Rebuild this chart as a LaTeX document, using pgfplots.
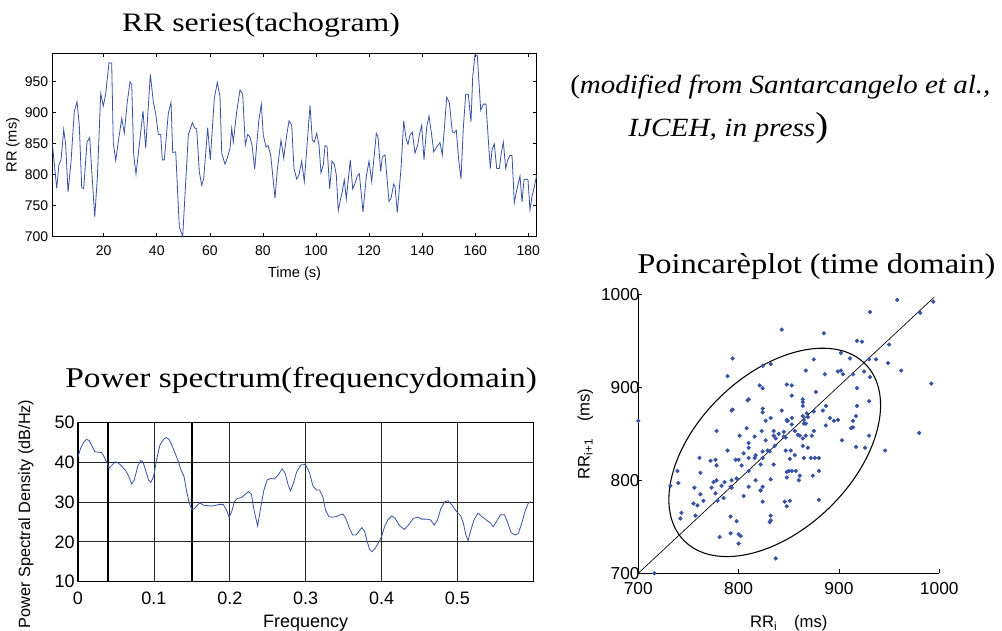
\documentclass[border=0pt]{standalone}
\usepackage{pgfplots}
\pgfplotsset{compat=1.18}
\usepackage{pgfplotstable}
\usepackage{graphicx}
\usepackage{fontspec}
\setmainfont{Liberation Serif}
\setsansfont{Liberation Sans}
\definecolor{mblue}{RGB}{57,83,164}

\pgfplotstableread{
t rr
0.64 851
2.30 778
3.13 816
3.92 824
4.94 873
5.69 848
6.56 772
7.69 821
8.93 902
9.95 918
10.81 880
11.72 779
12.47 778
13.72 853
14.73 860
15.60 800
16.62 732
17.60 794
18.88 931
19.86 911
20.76 931
22.00 981
23.02 980
23.62 851
24.53 823
25.51 853
26.79 891
27.77 867
28.90 918
29.92 950
30.56 946
31.31 832
32.18 801
33.42 848
34.82 903
35.83 843
37.57 962
38.70 918
39.60 899
40.58 865
41.48 865
42.09 824
42.84 824
44.35 899
45.37 917
46.01 836
47.14 837
48.49 716
49.77 700
51.88 864
53.39 884
54.41 875
55.05 874
56.03 805
56.93 783
57.69 794
59.19 876
60.17 824
61.68 923
62.81 949
63.83 926
64.47 835
65.71 817
66.58 827
67.60 843
68.24 875
68.84 853
70.12 902
71.36 937
72.38 930
73.36 848
74.27 865
75.13 861
75.89 848
76.90 809
78.41 886
79.39 914
80.14 864
81.16 845
81.91 847
82.93 832
84.55 762
85.42 808
86.81 856
87.83 827
88.96 864
89.83 887
90.84 880
91.71 810
92.73 793
93.59 800
94.61 822
95.59 789
97.74 912
98.61 856
99.36 853
100.26 867
101.13 848
101.88 803
102.75 816
103.39 847
104.14 846
105.16 777
106.03 822
106.89 817
107.65 800
108.40 742
109.16 759
109.91 773
110.66 792
111.42 761
112.92 824
113.83 777
114.69 786
115.56 798
116.31 802
117.71 740
118.95 797
119.97 822
120.99 789
121.97 832
122.72 867
123.36 861
124.38 805
124.98 829
126.00 832
127.50 757
128.26 762
129.28 785
129.77 781
130.63 739
132.03 810
133.04 887
133.91 859
134.66 849
135.42 864
136.28 869
137.30 835
138.32 848
138.92 864
139.83 880
140.69 824
141.71 877
142.58 895
143.59 864
144.35 837
145.48 845
146.72 852
147.59 832
149.25 925
150.23 917
151.36 869
152.11 868
152.86 872
153.77 824
154.63 793
155.50 875
156.41 930
157.38 930
158.40 885
159.04 958
159.91 994
160.78 992
162.06 904
163.04 914
164.05 914
164.92 857
165.67 810
166.31 840
167.18 850
168.09 810
169.07 810
169.82 835
170.57 853
171.48 810
172.23 824
173.10 831
173.85 831
174.72 755
175.62 775
176.86 798
177.62 756
178.37 792
179.12 793
179.88 792
180.63 743
181.39 765
182.14 778
183.16 800
}\rrtable

\pgfplotstableread{
f db
0.0000 41.4
0.0035 43.5
0.0079 45.1
0.0114 45.7
0.0148 45.4
0.0188 43.9
0.0223 42.6
0.0260 42.5
0.0310 42.4
0.0340 41.5
0.0376 40.1
0.0410 38.5
0.0450 39.3
0.0493 40.1
0.0537 39.7
0.0580 38.9
0.0624 38.0
0.0668 36.5
0.0707 34.5
0.0742 35.5
0.0786 38.9
0.0825 40.4
0.0856 40.1
0.0890 38.0
0.0930 35.5
0.0960 34.9
0.0996 36.4
0.1040 41.0
0.1080 44.3
0.1127 45.7
0.1162 46.2
0.1200 45.7
0.1236 44.3
0.1280 42.2
0.1323 40.1
0.1358 38.0
0.1397 36.4
0.1432 32.6
0.1467 29.7
0.1502 28.0
0.1537 28.4
0.1572 29.2
0.1607 29.8
0.1650 29.2
0.1694 29.1
0.1747 29.0
0.1803 29.1
0.1860 29.4
0.1913 29.4
0.1956 28.0
0.1991 26.2
0.2026 27.6
0.2061 30.1
0.2100 30.9
0.2153 31.1
0.2197 31.8
0.2245 32.6
0.2284 32.0
0.2319 28.0
0.2367 24.0
0.2406 28.4
0.2450 33.0
0.2493 35.5
0.2537 35.9
0.2590 35.8
0.2638 36.8
0.2690 38.3
0.2730 37.2
0.2769 34.3
0.2800 32.8
0.2838 34.7
0.2882 37.6
0.2939 39.3
0.2990 39.4
0.3010 39.0
0.3052 37.2
0.3096 34.0
0.3140 33.0
0.3183 33.0
0.3227 31.2
0.3262 28.0
0.3306 26.3
0.3350 26.2
0.3400 26.3
0.3445 26.7
0.3490 27.0
0.3530 25.9
0.3576 23.4
0.3620 21.7
0.3664 21.7
0.3700 22.6
0.3740 23.6
0.3777 22.6
0.3812 20.0
0.3843 18.1
0.3873 17.5
0.3917 18.4
0.3960 19.8
0.4000 21.3
0.4039 23.8
0.4083 25.5
0.4135 26.5
0.4180 25.9
0.4231 24.2
0.4300 23.1
0.4354 24.2
0.4420 25.9
0.4476 26.2
0.4528 25.7
0.4594 25.7
0.4646 25.5
0.4694 24.2
0.4738 25.5
0.4782 28.4
0.4834 30.1
0.4878 30.3
0.4930 29.2
0.4987 27.6
0.5044 26.5
0.5079 24.6
0.5109 21.9
0.5140 20.3
0.5175 22.8
0.5218 25.5
0.5271 27.2
0.5323 26.3
0.5380 25.5
0.5437 24.7
0.5472 23.8
0.5515 25.1
0.5568 26.8
0.5620 26.8
0.5664 24.7
0.5707 22.3
0.5760 21.7
0.5803 22.1
0.5847 24.7
0.5890 27.6
0.5934 29.7
0.5969 30.1
}\psdtable

\pgfplotstableread{
x y
851 778
778 816
816 824
824 873
873 848
848 772
772 821
821 902
902 918
918 880
880 779
779 778
778 853
853 860
860 800
800 732
732 794
794 931
931 911
911 931
931 981
981 980
980 851
851 823
823 853
853 891
891 867
867 918
918 950
950 946
946 832
832 801
801 848
848 903
903 843
843 962
962 918
918 899
899 865
865 865
865 824
824 824
824 899
899 917
917 836
836 837
837 716
716 700
700 864
864 884
884 875
875 874
874 805
805 783
783 794
794 876
876 824
824 923
923 949
949 926
926 835
835 817
817 827
827 843
843 875
875 853
853 902
902 937
937 930
930 848
848 865
865 861
861 848
848 809
809 886
886 914
914 864
864 845
845 847
847 832
832 762
762 808
808 856
856 827
827 864
864 887
887 880
880 810
810 793
793 800
800 822
822 789
789 912
912 856
856 853
853 867
867 848
848 803
803 816
816 847
847 846
846 777
777 822
822 817
817 800
800 742
742 759
759 773
773 792
792 761
761 824
824 777
777 786
786 798
798 802
802 740
740 797
797 822
822 789
789 832
832 867
867 861
861 805
805 829
829 832
832 757
757 762
762 785
785 781
781 739
739 810
810 887
887 859
859 849
849 864
864 869
869 835
835 848
848 864
864 880
880 824
824 877
877 895
895 864
864 837
837 845
845 852
852 832
832 925
925 917
917 869
869 868
868 872
872 824
824 793
793 875
875 930
930 930
930 885
885 958
958 994
994 992
992 904
904 914
914 914
914 857
857 810
810 840
840 850
850 810
810 810
810 835
835 853
853 810
810 824
824 831
831 831
831 755
755 775
775 798
798 756
756 792
792 793
793 792
792 743
743 765
765 778
778 800
}\poinctable

\begin{document}
\begin{tikzpicture}
\path[use as bounding box] (0,0) rectangle (751.5pt,473.25pt);

% ---------------- RR series ----------------
\begin{axis}[
  at={(39.23pt,295.7pt)}, anchor=south west, scale only axis,
  width=363.3pt, height=137.55pt,
  xmin=0.64, xmax=183.16, ymin=700, ymax=996,
  xtick={20,40,60,80,100,120,140,160,180},
  ytick={700,750,800,850,900,950},
  tick align=inside, tick pos=both, major tick length=3pt,
  every tick/.style={black, line width=0.5pt},
  axis line style={black, line width=0.8pt},
  /pgf/number format/assume math mode=true,
  /pgf/number format/1000 sep={},
  tick label style={font=\sffamily\fontsize{10.5}{12}\selectfont},
  xticklabel style={yshift=-3.5pt},
  yticklabel style={xshift=0.5pt},
  xlabel={Time (s)}, ylabel={RR (ms)},
  label style={font=\sffamily\fontsize{11}{13}\selectfont},
  xlabel style={yshift=-1pt},
  ylabel style={yshift=-3pt},
]
\addplot[mblue, line width=0.6pt] table[x=t, y=rr] {\rrtable};
\end{axis}

% ---------------- Power spectrum ----------------
\begin{axis}[
  at={(58.5pt,36.98pt)}, anchor=south west, scale only axis,
  width=341.5pt, height=119.55pt,
  xmin=0, xmax=0.6, ymin=10, ymax=50,
  xtick={0,0.1,0.2,0.3,0.4,0.5},
  ytick={10,20,30,40,50},
  grid=major, major grid style={black!85, line width=0.55pt},
  extra x ticks={0.04,0.15}, extra x tick labels={},
  extra x tick style={grid=major, major grid style={black, line width=1.3pt}},
  tick align=inside, major tick length=0pt,
  axis line style={black, line width=0.9pt},
  /pgf/number format/assume math mode=true,
  tick label style={font=\sffamily\fontsize{13.5}{15}\selectfont},
  yticklabel style={xshift=1pt},
  xticklabel style={yshift=-4pt},
  xlabel={Frequency}, ylabel={Power Spectral Density (dB/Hz)},
  xlabel style={font=\sffamily\fontsize{13.5}{15}\selectfont, yshift=-1pt},
  ylabel style={font=\sffamily\fontsize{12.2}{14}\selectfont, yshift=9pt, xshift=-9pt},
]
\addplot[mblue, line width=0.6pt] table[x=f, y=db] {\psdtable};
\end{axis}

% ---------------- Poincare plot ----------------
\begin{axis}[
  at={(478.7pt,43.28pt)}, anchor=south west, scale only axis,
  width=225.75pt, height=209.25pt,
  xmin=700, xmax=1000, ymin=700, ymax=1000,
  axis x line=bottom, axis y line=left,
  axis line style={-, black, line width=0.6pt},
  xtick={700,800,900,1000}, ytick={700,800,900,1000},
  tick align=inside, major tick length=3pt,
  every tick/.style={black, line width=0.5pt},
  clip=false,
  /pgf/number format/assume math mode=true,
  /pgf/number format/1000 sep={},
  tick label style={font=\sffamily\fontsize{13}{15}\selectfont},
  yticklabel style={xshift=4.5pt},
  xticklabel style={yshift=-3pt},
  xlabel={RR\textsubscript{i}\quad(ms)},
  ylabel={RR\textsubscript{i+1}\quad(ms)},
  label style={font=\sffamily\fontsize{12.5}{14}\selectfont},
  xlabel style={yshift=-9pt},
  ylabel style={yshift=-1pt},
]
\addplot[only marks, mark=*, mark size=1.4pt, mblue] table[x=x, y=y] {\poinctable};
\addplot[black, line width=0.5pt] coordinates {(700,700) (995,997)};
\draw[black, line width=0.8pt, rotate around={44:(axis cs:836,830)}]
  (axis cs:836,830) ellipse [x radius=94.9pt, y radius=58.3pt];
\end{axis}

% ---------------- Titles and note ----------------
\node[anchor=base west, inner sep=0pt] at (91.3pt,449.5pt)
  {\resizebox{208.5pt}{\height}{\fontsize{20}{24}\selectfont RR series(tachogram)}};
\node[anchor=base west, inner sep=0pt] at (48.75pt,182.8pt)
  {\resizebox{353.8pt}{\height}{\fontsize{21.5}{26}\selectfont Power spectrum(frequencydomain)}};
\node[anchor=base west, inner sep=0pt] at (477.75pt,267.75pt)
  {\resizebox{268.5pt}{\height}{\fontsize{21.5}{26}\selectfont Poincarèplot (time domain)}};
\node[anchor=base west, inner sep=0pt] at (427.5pt,403.3pt)
  {\resizebox{315pt}{\height}{\fontsize{19.7}{24}\selectfont (\textit{modified from Santarcangelo et al.,}}};
\node[anchor=base west, inner sep=0pt] at (471pt,370.9pt)
  {\resizebox{150pt}{\height}{\fontsize{19.7}{24}\selectfont\textit{IJCEH, in press}{\fontsize{26}{30}\selectfont )}}};
\end{tikzpicture}
\end{document}
